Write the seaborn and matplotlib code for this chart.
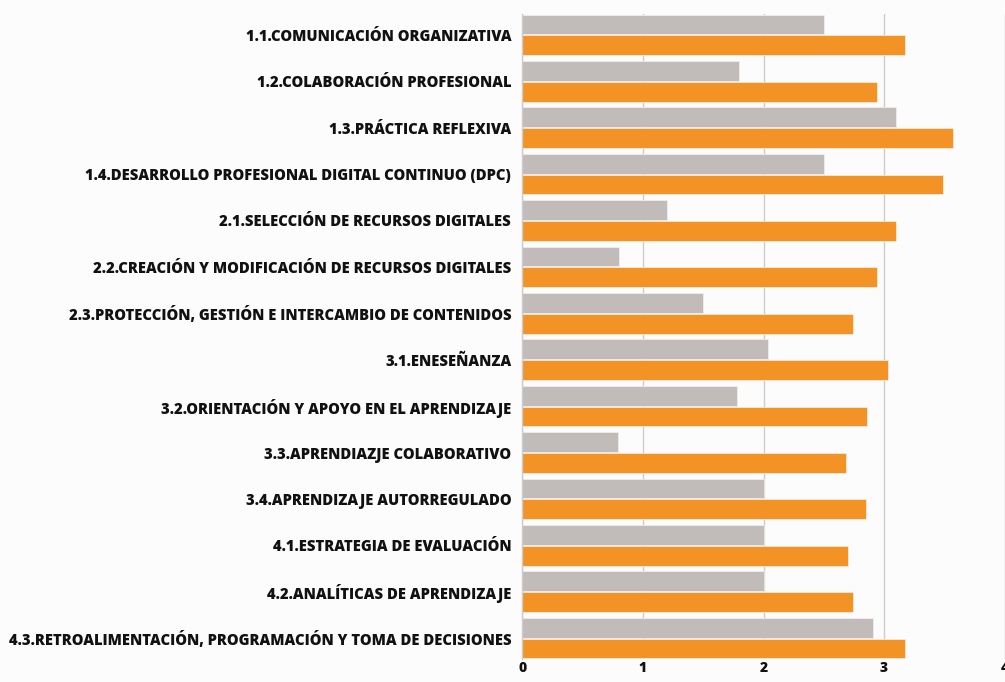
import matplotlib
matplotlib.use("Agg")
import matplotlib.pyplot as plt
import seaborn as sns
import pandas as pd

categories = [
    "1.1.COMUNICACIÓN ORGANIZATIVA",
    "1.2.COLABORACIÓN PROFESIONAL",
    "1.3.PRÁCTICA REFLEXIVA",
    "1.4.DESARROLLO PROFESIONAL DIGITAL CONTINUO (DPC)",
    "2.1.SELECCIÓN DE RECURSOS DIGITALES",
    "2.2.CREACIÓN Y MODIFICACIÓN DE RECURSOS DIGITALES",
    "2.3.PROTECCIÓN, GESTIÓN E INTERCAMBIO DE CONTENIDOS",
    "3.1.ENESEÑANZA",
    "3.2.ORIENTACIÓN Y APOYO EN EL APRENDIZAJE",
    "3.3.APRENDIAZJE COLABORATIVO",
    "3.4.APRENDIZAJE AUTORREGULADO",
    "4.1.ESTRATEGIA DE EVALUACIÓN",
    "4.2.ANALÍTICAS DE APRENDIZAJE",
    "4.3.RETROALIMENTACIÓN, PROGRAMACIÓN Y TOMA DE DECISIONES",
]
serie_gris = [2.50, 1.80, 3.10, 2.50, 1.20, 0.80, 1.50, 2.04, 1.78, 0.79, 2.00, 2.00, 2.00, 2.91]
serie_naranja = [3.17, 2.94, 3.57, 3.49, 3.10, 2.94, 2.74, 3.03, 2.86, 2.68, 2.85, 2.70, 2.74, 3.17]
series_names = ["Serie 1", "Serie 2"]
x_ticks = [0, 1, 2, 3, 4]

df = pd.DataFrame({
    "categoria": categories * 2,
    "valor": serie_gris + serie_naranja,
    "serie": [series_names[0]] * len(categories) + [series_names[1]] * len(categories),
})

sns.set_theme(style="white")
plt.rcParams["font.family"] = ["Open Sans", "DejaVu Sans"]

bg = "#fcfcfc"
fig = plt.figure(figsize=(10.05, 6.82), dpi=100, facecolor=bg)
ax = fig.add_axes([522.3 / 1005, 1 - 659 / 682, (1004.7 - 522.3) / 1005, 645 / 682])
ax.set_facecolor(bg)

sns.barplot(
    data=df, y="categoria", x="valor", hue="serie", orient="h",
    palette=["#c1bbba", "#f39325"], saturation=1, width=0.9, gap=0.05,
    edgecolor="#f4f0ee", linewidth=0.5, legend=False, ax=ax, errorbar=None,
)

ax.set_xlim(0, 4)
ax.set_ylim(len(categories) - 0.55, -0.45)
ax.set_xticks(x_ticks)
ax.set_xticklabels([str(t) for t in x_ticks], fontsize=10, fontweight="heavy", color="#111111")
ax.tick_params(axis="x", length=0, pad=1.5)
ax.tick_params(axis="y", length=0, pad=8)
for lbl in ax.get_yticklabels():
    lbl.set_fontsize(10.6)
    lbl.set_fontweight("heavy")
    lbl.set_color("#111111")
ax.set_xlabel("")
ax.set_ylabel("")
ax.grid(axis="x", color="#cccccc", linewidth=1.0)
ax.set_axisbelow(True)
for s in ["top", "right", "bottom"]:
    ax.spines[s].set_visible(False)
ax.spines["left"].set_color("#cccccc")
ax.spines["left"].set_linewidth(1.0)

fig.savefig("out.png", dpi=100, facecolor=bg)
